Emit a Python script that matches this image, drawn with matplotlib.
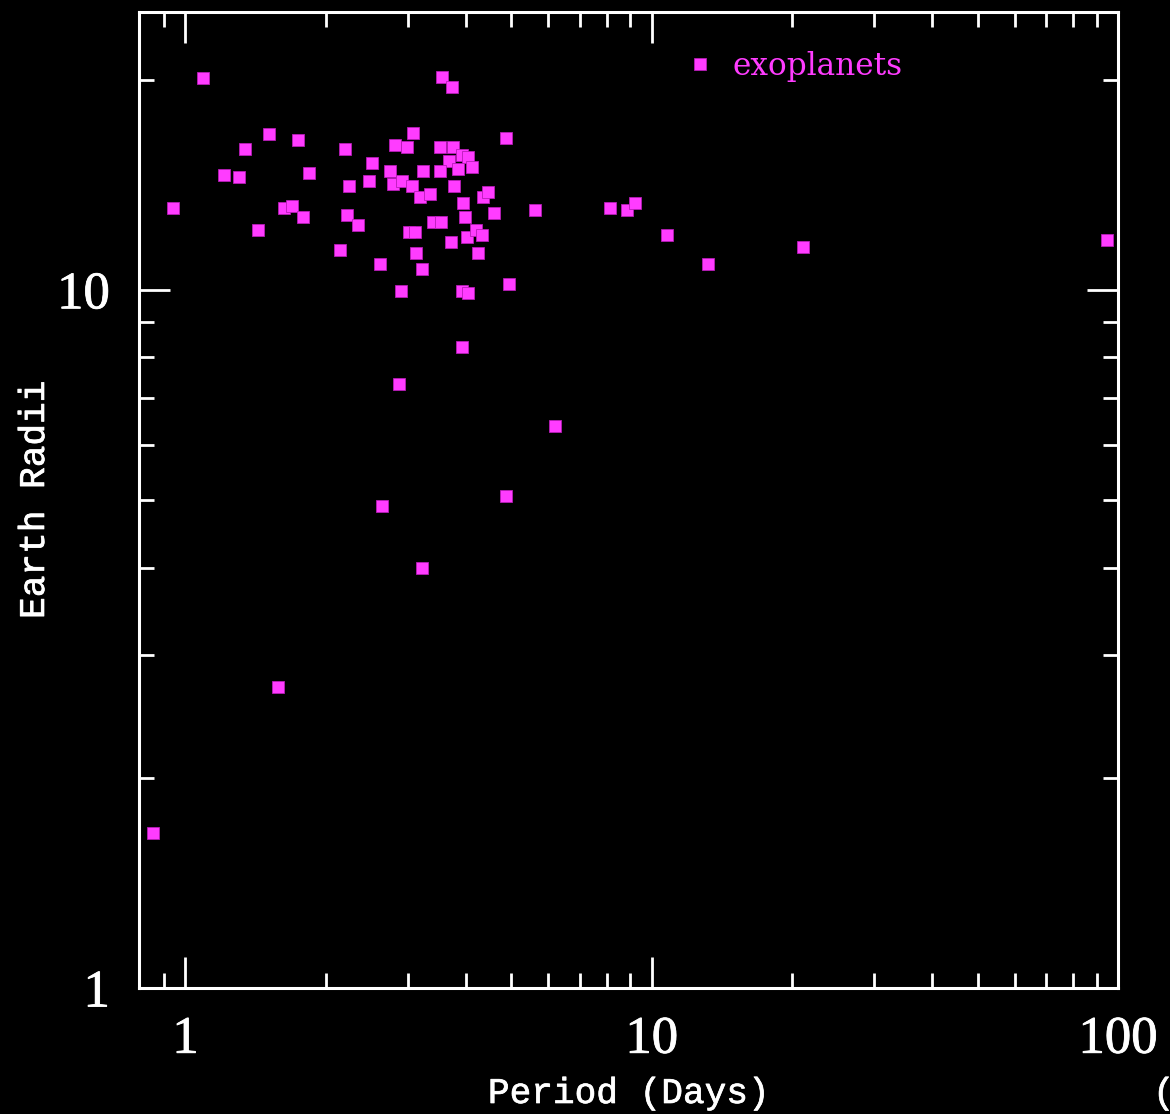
import matplotlib
matplotlib.use("Agg")
import matplotlib.pyplot as plt
import matplotlib.patheffects as pe
from matplotlib.ticker import FixedLocator, NullFormatter, FixedFormatter

# Orbital period (days) and planet radius (Earth radii)
period_days = [
    1.09, 1.51, 1.74, 1.34, 2.20, 2.82, 2.51, 1.21, 1.30, 1.84,
    2.24, 2.47, 0.94, 1.63, 1.69, 1.79, 1.43, 2.22, 2.34, 2.15,
    2.61, 2.90, 3.55, 3.73, 3.07, 4.88, 2.99, 3.52, 3.75, 3.92,
    4.04, 3.67, 3.23, 3.51, 3.85, 4.12, 2.75, 2.78, 2.92, 3.06,
    3.19, 3.35, 3.76, 4.34, 4.46, 3.94, 4.60, 5.62, 3.97, 3.40,
    3.54, 3.01, 3.10, 4.01, 4.19, 4.32, 3.71, 4.24, 3.12, 3.21,
    4.94, 3.91, 4.03, 8.14, 8.87, 9.19, 10.8, 13.2, 21.1, 94.8,
    3.92, 2.87, 6.21, 4.88, 2.64, 3.21, 1.58, 0.853,
]
radius_earth = [
    20.1, 16.7, 16.4, 15.9, 15.9, 16.1, 15.2, 14.6, 14.5, 14.7,
    14.1, 14.3, 13.1, 13.1, 13.2, 12.7, 12.2, 12.8, 12.4, 11.4,
    10.9, 9.97, 20.2, 19.5, 16.8, 16.5, 16.0, 16.0, 16.0, 15.6,
    15.5, 15.3, 14.8, 14.8, 14.9, 15.0, 14.8, 14.2, 14.3, 14.1,
    13.6, 13.7, 14.1, 13.6, 13.8, 13.3, 12.9, 13.0, 12.7, 12.5,
    12.5, 12.1, 12.1, 11.9, 12.2, 12.0, 11.7, 11.3, 11.3, 10.7,
    10.2, 9.97, 9.91, 13.1, 13.0, 13.3, 12.0, 10.9, 11.5, 11.8,
    8.28, 7.32, 6.39, 5.06, 4.90, 3.99, 2.70, 1.67,
]
series_label = "exoplanets"

x_major = [1, 10, 100]
x_major_labels = ["1", "10", "100"]
x_minor = [0.9, 2, 3, 4, 5, 6, 7, 8, 9, 20, 30, 40, 50, 60, 70, 80, 90]
y_major = [1, 10]
y_major_labels = ["1", "10"]
y_minor = [2, 3, 4, 5, 6, 7, 8, 9, 20]

MAGENTA = "#ff3cff"
EDGE = "#b81cb8"
W, H = 1170, 1114

fig = plt.figure(figsize=(W / 100, H / 100), dpi=100, facecolor="black")
ax = fig.add_axes([139 / W, 1 - 988 / H, (1118 - 139) / W, (988 - 12) / H])
ax.set_facecolor("black")

ax.plot(period_days, radius_earth, linestyle="none", marker="s", markersize=9.2,
        markerfacecolor=MAGENTA, markeredgecolor=EDGE, markeredgewidth=0.6,
        label=series_label, clip_on=False, zorder=3)

ax.set_xscale("log")
ax.set_yscale("log")
ax.set_xlim(0.795, 100)
ax.set_ylim(1, 25)

ax.xaxis.set_major_locator(FixedLocator(x_major))
ax.xaxis.set_major_formatter(FixedFormatter(x_major_labels))
ax.xaxis.set_minor_locator(FixedLocator(x_minor))
ax.xaxis.set_minor_formatter(NullFormatter())
ax.yaxis.set_major_locator(FixedLocator(y_major))
ax.yaxis.set_major_formatter(FixedFormatter(y_major_labels))
ax.yaxis.set_minor_locator(FixedLocator(y_minor))
ax.yaxis.set_minor_formatter(NullFormatter())

for sp in ax.spines.values():
    sp.set_color("white")
    sp.set_linewidth(2.2)

ax.tick_params(which="both", direction="in", colors="white", top=True, right=True, width=2.0)
ax.tick_params(which="major", length=22)
ax.tick_params(which="minor", length=11)
ax.tick_params(axis="x", which="major", pad=20)
ax.tick_params(axis="y", which="major", pad=21)

for lab in ax.get_xticklabels() + ax.get_yticklabels():
    lab.set_fontfamily("Liberation Serif")
    lab.set_fontsize(38)
    lab.set_color("white")
    lab.set_path_effects([pe.withStroke(linewidth=0.6, foreground="white")])

thick = [pe.withStroke(linewidth=0.5, foreground="white")]
label_font = dict(family="Liberation Mono", size=26, color="white")
ax.set_xlabel("Period (Days)", path_effects=thick, **label_font)
ax.set_ylabel("Earth Radii", path_effects=thick, **label_font)
ax.xaxis.set_label_coords(0.5, (988 - 1076) / 976)
ax.yaxis.set_label_coords((52 - 139) / 979, 0.5)

fig.text(1153 / W, 1 - 1076 / H, "(", ha="left", va="top", path_effects=thick, **label_font)

leg = ax.legend(loc="center left", bbox_to_anchor=((691 - 139) / 979, (988 - 66) / 976),
                frameon=False, numpoints=1, handlelength=0.6, handletextpad=0.72,
                borderpad=0, borderaxespad=0,
                prop=dict(family="DejaVu Serif", size=22.5))
for t in leg.get_texts():
    t.set_color(MAGENTA)

fig.savefig("out.png", dpi=100, facecolor="black")
